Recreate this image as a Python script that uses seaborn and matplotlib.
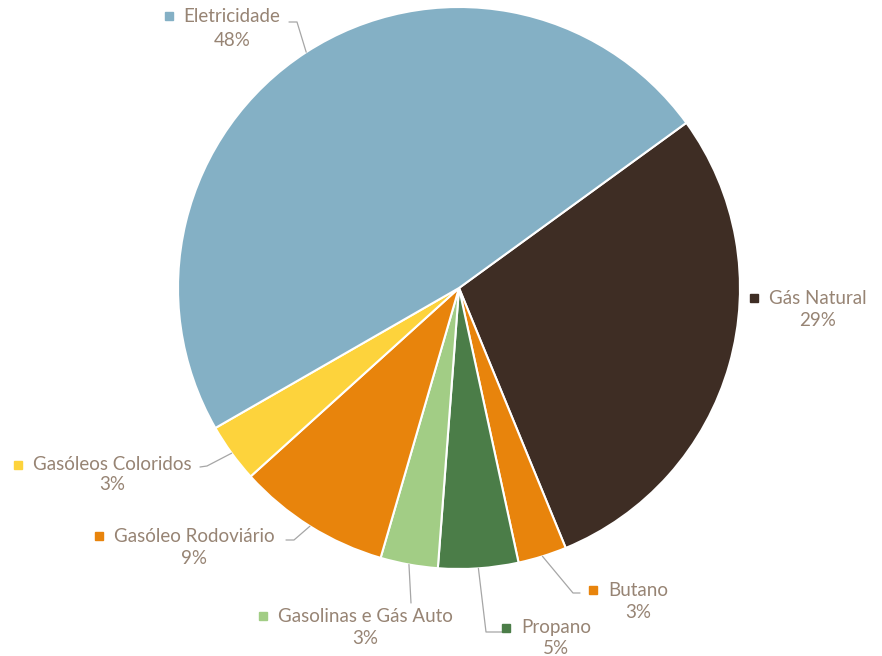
import numpy as np
import matplotlib.pyplot as plt
import seaborn as sns

# data, clockwise starting after Eletricidade
labels = ["Gás Natural", "Butano", "Propano", "Gasolinas e Gás Auto",
          "Gasóleo Rodoviário", "Gasóleos Coloridos", "Eletricidade"]
values = [28.8, 2.8, 4.6, 3.3, 8.8, 3.4, 48.3]
colors = ["#3E2D24", "#E8840C", "#4B7D48", "#A2CD85",
          "#E8840C", "#FDD33C", "#84B0C5"]

# label layout in pixel coords (name centre x, name y, pct y)
label_pos = [(818, 298, 321), (638, 590, 612), (556, 628, 649),
             (365, 616, 638), (194, 536, 558), (112, 465, 485),
             (232, 16, 40)]
# leader lines: (end point, elbow point) or None
leaders = [None, ((580, 593), (573, 593)), ((502, 632), (486, 632)),
           ((411, 603), (411, 603)), ((286, 540), (294, 540)),
           ((200, 467), (207, 466)), ((289, 22), (297, 22))]

W, H = 882, 656
cx, cy, R = 459, 288, 281
text_col = "#978474"

sns.set_theme(style="white")
plt.rcParams['font.family'] = ['Lato', 'DejaVu Sans']

fig = plt.figure(figsize=(8.82, 6.56), dpi=100)
ax = fig.add_axes([0, 0, 1, 1])

start = 36
ax.pie(values, colors=colors, startangle=start, counterclock=False,
       center=(cx, H - cy), radius=R,
       wedgeprops=dict(edgecolor="white", linewidth=1.5))
ax.set_xlim(0, W)
ax.set_ylim(0, H)
ax.axis("off")

fig.canvas.draw()
renderer = fig.canvas.get_renderer()

total = sum(values)
cum = 0
for i, (lab, v) in enumerate(zip(labels, values)):
    mid = 90 - start + 360 * (cum + v / 2) / total  # clockwise from top
    cum += v
    th = np.deg2rad(mid)
    ex, ey = cx + R * np.sin(th), cy - R * np.cos(th)
    if leaders[i] is not None:
        (x1, y1), (x2, y2) = leaders[i]
        ax.plot([ex, x2, x1], [H - ey, H - y2, H - y1], color="#A6A6A6", lw=0.9)
    nx, ny, py = label_pos[i]
    t = ax.text(nx, H - ny, lab, ha="center", va="center", fontsize=13.5,
                color=text_col)
    ax.text(nx, H - py, f"{v:.0f}%", ha="center", va="center", fontsize=13.5,
            color=text_col)
    # small colour key left of the name
    bb = t.get_window_extent(renderer=renderer)
    ax.plot(bb.x0 - 15, H - ny, marker="s", ms=6, color=colors[i], lw=0)

fig.savefig("out.png", dpi=100)
